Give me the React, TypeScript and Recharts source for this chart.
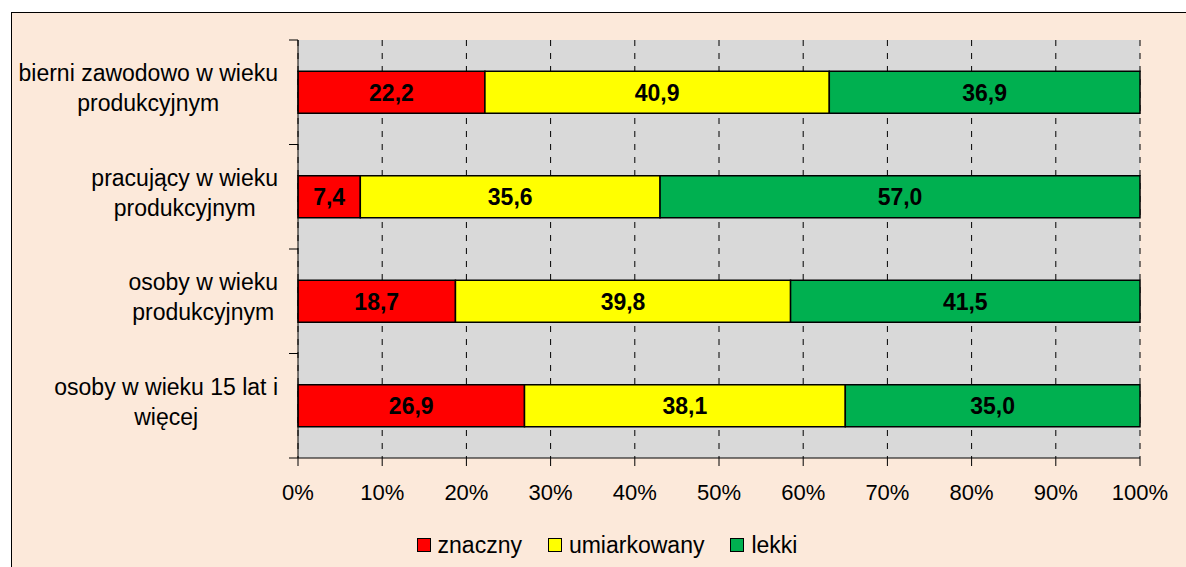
import { Bar, BarChart, CartesianGrid, LabelList, Legend, XAxis, YAxis } from "recharts";

const categories = [
  "bierni zawodowo w wieku\nprodukcyjnym",
  "pracujący w wieku\nprodukcyjnym",
  "osoby w wieku\nprodukcyjnym",
  "osoby w wieku 15 lat i\nwięcej"
];
const znaczny = [22.2, 7.4, 18.7, 26.9];
const umiarkowany = [40.9, 35.6, 39.8, 38.1];
const lekki = [36.9, 57.0, 41.5, 35.0];
const xTicks = [0, 10, 20, 30, 40, 50, 60, 70, 80, 90, 100];
const seriesNames = ["znaczny", "umiarkowany", "lekki"];
const seriesColors = ["#FF0000", "#FFFF00", "#00B050"];

const FONT = '"Liberation Sans", Arial, sans-serif';
const LABEL_SIZE = 23;

const data = categories.map((name, i) => ({
  name,
  znaczny: znaczny[i],
  umiarkowany: umiarkowany[i],
  lekki: lekki[i]
}));

let ctx: CanvasRenderingContext2D | null = null;
function textWidth(s: string) {
  if (!ctx) ctx = document.createElement("canvas").getContext("2d");
  if (!ctx) return s.length * 11;
  ctx.font = `${LABEL_SIZE}px ${FONT}`;
  return ctx.measureText(s).width;
}

const fmt = (v: any) => Number(v).toFixed(1).replace(".", ",");

// category labels sit between boundary ticks, right aligned, lines centred in the block
function CategoryTick(props: any) {
  const { x, y, payload } = props;
  const index = props.index ?? payload.index;
  const half = payload.offset ?? 0;
  const lines = String(payload.value).split("\n");
  const block = Math.max(...lines.map(textWidth));
  const cx = x - 11 - block / 2;
  return (
    <g>
      <line x1={x} x2={x + 9} y1={y - half} y2={y - half} stroke="#000" />
      {index === categories.length - 1 ? (
        <line x1={x} x2={x + 9} y1={y + half} y2={y + half} stroke="#000" />
      ) : null}
      <text textAnchor="middle" fontSize={LABEL_SIZE} fontFamily={FONT} fill="#000">
        {lines.map((l, i) => (
          <tspan key={i} x={cx} y={y + (i - (lines.length - 1) / 2) * 30 + 4}>
            {l}
          </tspan>
        ))}
      </text>
    </g>
  );
}

function LegendContent(props: any) {
  const items = props.payload ?? [];
  return (
    <div
      style={{
        display: "flex",
        justifyContent: "center",
        alignItems: "center",
        height: 24,
        fontFamily: FONT,
        fontSize: LABEL_SIZE,
        color: "#000"
      }}
    >
      {items.map((it: any, i: number) => (
        <div key={it.value} style={{ display: "flex", alignItems: "center", marginLeft: i ? 26 : 0 }}>
          <span
            style={{
              width: 12,
              height: 12,
              background: it.color,
              border: "1px solid #000",
              marginRight: 7
            }}
          />
          <span>{it.value}</span>
        </div>
      ))}
    </div>
  );
}

export default function App() {
  return (
    <div
      style={{
        position: "absolute",
        left: 0,
        top: 0,
        width: 1186,
        height: 567,
        background: "#fff",
        overflow: "hidden"
      }}
    >
      <div
        style={{
          position: "absolute",
          left: 11,
          top: 12,
          width: 1220,
          height: 600,
          background: "#FCE9DA",
          border: "1px solid #000"
        }}
      />
      <div style={{ position: "absolute", left: 0, top: 0 }}>
        <BarChart
          width={1186}
          height={567}
          data={data}
          layout="vertical"
          barCategoryGap="30%"
          margin={{ top: 40, right: 46, left: 0, bottom: 0 }}
        >
          <CartesianGrid
            horizontal={false}
            stroke="#000"
            strokeDasharray="6 7"
            fill="#D9D9D9"
            fillOpacity={1}
          />
          <XAxis
            type="number"
            domain={[0, 100]}
            ticks={xTicks}
            interval={0}
            tickFormatter={(v: number) => `${v}%`}
            tick={{ fill: "#000", fontSize: 22, fontFamily: FONT }}
            tickSize={8}
            tickMargin={18}
            axisLine={{ stroke: "#000" }}
            tickLine={{ stroke: "#000" }}
            height={85}
          />
          <XAxis
            xAxisId="top"
            orientation="top"
            type="number"
            domain={[0, 100]}
            height={0}
            tick={false}
            tickLine={false}
            axisLine={{ stroke: "#8C8C8C", strokeWidth: 1.5 }}
          />
          <YAxis
            type="category"
            dataKey="name"
            width={298}
            interval={0}
            tickSize={9}
            tickMargin={0}
            tickLine={false}
            axisLine={{ stroke: "#000" }}
            tick={<CategoryTick />}
          />
          <YAxis
            yAxisId="right"
            orientation="right"
            type="category"
            dataKey="name"
            width={0}
            tick={false}
            tickLine={false}
            axisLine={{ stroke: "#8C8C8C", strokeWidth: 1.5 }}
          />
          <Legend
            verticalAlign="bottom"
            content={<LegendContent />}
            itemSorter={(item: any) => seriesNames.indexOf(item.value)}
            wrapperStyle={{ left: 14, width: 1186, top: 533 }}
          />
          {seriesNames.map((key, i) => (
            <Bar
              key={key}
              dataKey={key}
              name={key}
              stackId="a"
              fill={seriesColors[i]}
              stroke="#000"
              strokeWidth={1.5}
              isAnimationActive={false}
            >
              <LabelList
                dataKey={key}
                position="center"
                formatter={fmt}
                fill="#000"
                fontWeight="bold"
                fontSize={LABEL_SIZE}
                fontFamily={FONT}
              />
            </Bar>
          ))}
        </BarChart>
      </div>
    </div>
  );
}
